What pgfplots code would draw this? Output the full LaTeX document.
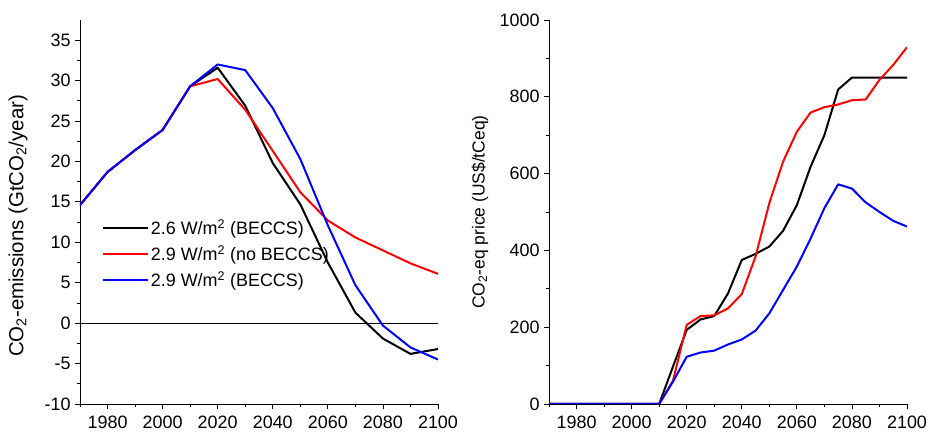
\documentclass[border=0pt]{standalone}
\usepackage{fontspec}
\setmainfont{Liberation Sans}
\usepackage{pgfplots}
\pgfplotsset{compat=1.18}
\begin{document}
\begin{tikzpicture}
\pgfplotsset{
 common/.style={
  scale only axis, width=358bp, height=384bp,
  xmin=1970, xmax=2100,
  axis x line*=bottom, axis y line*=left,
  axis line style={-, line width=0.8bp},
  tick align=outside, tick style={black, line width=0.8bp},
  major tick length=5bp, minor tick length=3bp,
  xtick={1980,2000,...,2100}, minor xtick={1970,1990,...,2090},
  /pgf/number format/1000 sep={},
  /pgf/number format/assume math mode=true,
  ticklabel style={font=\fontsize{18}{20}\selectfont},
  x tick label style={yshift=-3bp},
  y tick label style={xshift=-1bp},
  every axis plot/.append style={line width=2bp, line join=round},
 }
}
\begin{axis}[common,
  ymin=-10, ymax=37.5,
  ytick={-10,-5,...,35}, minor ytick={-7.5,-2.5,...,32.5},
  ylabel={CO\textsubscript{2}-emissions (GtCO\textsubscript{2}/year)},
  ylabel style={at={(axis description cs:-0.173,0.464)}, anchor=center, font=\fontsize{20.5}{24}\selectfont},
  legend style={at={(axis description cs:0.062,0.485)}, anchor=north west, draw=none, fill=none,
    font=\fontsize{18}{20}\selectfont, row sep=6.5bp, inner sep=0pt, nodes={inner sep=1.5bp}},
  legend cell align=left,
  legend image code/.code={\draw[#1, line width=2bp] (0bp,0bp) -- (45bp,0bp);},
]
\addplot[black, line width=0.8bp, forget plot] coordinates {(1970,0) (2100,0)};
\addplot[black] coordinates {(1970,14.6) (1980,18.7) (1990,21.4) (2000,23.9) (2010,29.3) (2020,31.6) (2030,26.9) (2040,19.8) (2050,14.7) (2060,7.5) (2070,1.3) (2080,-1.9) (2090,-3.8) (2100,-3.2)};
\addplot[red] coordinates {(1970,14.6) (1980,18.7) (1990,21.4) (2000,23.9) (2010,29.3) (2020,30.2) (2030,26.4) (2040,21.3) (2050,16.2) (2060,12.7) (2070,10.6) (2080,9.0) (2090,7.4) (2100,6.1)};
\addplot[blue] coordinates {(1970,14.6) (1980,18.7) (1990,21.4) (2000,23.9) (2010,29.3) (2020,32.0) (2030,31.3) (2040,26.6) (2050,20.3) (2060,12.1) (2070,4.7) (2080,-0.3) (2090,-3.0) (2100,-4.5)};
\legend{2.6 W/m\textsuperscript{2} (BECCS), 2.9 W/m\textsuperscript{2} (no BECCS), 2.9 W/m\textsuperscript{2} (BECCS)}
\end{axis}
\begin{axis}[common, at={(469bp,0bp)},
  ymin=0, ymax=1000,
  ytick={0,200,...,1000}, minor ytick={100,300,...,900},
  ylabel={CO\textsubscript{2}-eq price (US\$/tCeq)},
  ylabel style={at={(axis description cs:-0.193,0.5)}, anchor=center, font=\fontsize{17.5}{21}\selectfont},
]
\addplot[black] coordinates {(1970,0) (2010,0) (2015,97) (2020,193) (2025,220) (2030,229) (2035,288) (2040,375) (2045,391) (2050,410) (2055,451) (2060,518) (2065,618) (2070,700) (2075,819) (2080,850) (2085,850) (2090,850) (2095,850) (2100,850)};
\addplot[red] coordinates {(1970,0) (2010,0) (2015,60) (2020,206) (2025,229) (2030,231) (2035,249) (2040,286) (2045,384) (2050,523) (2055,631) (2060,709) (2065,759) (2070,773) (2075,780) (2080,791) (2085,793) (2090,844) (2095,883) (2100,929)};
\addplot[blue] coordinates {(1970,0) (2010,0) (2015,58) (2020,123) (2025,134) (2030,139) (2035,155) (2040,168) (2045,191) (2050,236) (2055,297) (2060,358) (2065,431) (2070,510) (2075,572) (2080,561) (2085,525) (2090,500) (2095,477) (2100,462)};
\end{axis}
\pgfresetboundingbox
\path[use as bounding box] (-80bp,-32bp) rectangle (856bp,404bp);
\end{tikzpicture}
\end{document}
